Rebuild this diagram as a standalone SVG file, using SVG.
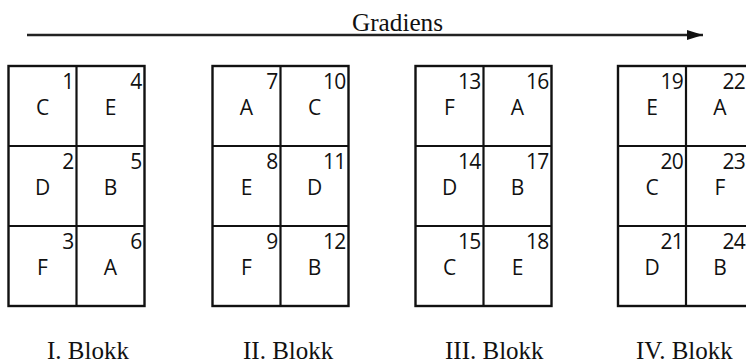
<svg xmlns="http://www.w3.org/2000/svg" width="746" height="363" viewBox="0 0 746 363">
  <style>
    .frame { fill: #fff; stroke: #111; stroke-width: 2.4; }
    .grid { stroke: #111; stroke-width: 2.2; fill: none; }
    .plot { font-family: "Open Sans", "Liberation Sans", sans-serif; font-size: 21px; fill: #111; }
    .num { text-anchor: end; letter-spacing: -0.8px; }
    .sp { text-anchor: middle; }
    .title { font-family: "Liberation Serif", "Times New Roman", serif; font-size: 25px; fill: #111; }
    .axis { stroke: #222; stroke-width: 2.4; fill: none; }
  </style>
  <defs>
    <marker id="head" markerUnits="userSpaceOnUse" markerWidth="16" markerHeight="10" refX="16" refY="5" orient="auto">
      <path d="M0,0 L16,5 L0,10 Z" fill="#111"/>
    </marker>
    <!-- a block: two columns x three rows of plots, 136 x 240 -->
    <g id="blockFrame">
      <rect class="frame" x="0" y="0" width="136" height="240"/>
      <path class="grid" d="M68,0 V240 M0,80 H136 M0,160 H136"/>
    </g>
  </defs>

  <!-- gradient axis -->
  <g id="connectors">
    <line class="axis" x1="27" y1="35" x2="703" y2="35" marker-end="url(#head)"/>
  </g>
  <text class="title" x="352" y="31" font-size="29" textLength="91" lengthAdjust="spacingAndGlyphs">Gradiens</text>

  <!-- Block I -->
  <g id="block1" transform="translate(8.5,66)">
    <use href="#blockFrame"/>
    <g class="plot">
      <text class="num" x="65" y="23">1</text><text class="sp" x="34" y="49">C</text>
      <text class="num" x="65" y="103">2</text><text class="sp" x="34" y="129">D</text>
      <text class="num" x="65" y="183">3</text><text class="sp" x="34" y="209">F</text>
      <text class="num" x="133" y="23">4</text><text class="sp" x="102" y="49">E</text>
      <text class="num" x="133" y="103">5</text><text class="sp" x="102" y="129">B</text>
      <text class="num" x="133" y="183">6</text><text class="sp" x="102" y="209">A</text>
    </g>
  </g>

  <!-- Block II -->
  <g id="block2" transform="translate(212.5,66)">
    <use href="#blockFrame"/>
    <g class="plot">
      <text class="num" x="65" y="23">7</text><text class="sp" x="34" y="49">A</text>
      <text class="num" x="65" y="103">8</text><text class="sp" x="34" y="129">E</text>
      <text class="num" x="65" y="183">9</text><text class="sp" x="34" y="209">F</text>
      <text class="num" x="133" y="23">10</text><text class="sp" x="102" y="49">C</text>
      <text class="num" x="133" y="103">11</text><text class="sp" x="102" y="129">D</text>
      <text class="num" x="133" y="183">12</text><text class="sp" x="102" y="209">B</text>
    </g>
  </g>

  <!-- Block III -->
  <g id="block3" transform="translate(415.5,66)">
    <use href="#blockFrame"/>
    <g class="plot">
      <text class="num" x="65" y="23">13</text><text class="sp" x="34" y="49">F</text>
      <text class="num" x="65" y="103">14</text><text class="sp" x="34" y="129">D</text>
      <text class="num" x="65" y="183">15</text><text class="sp" x="34" y="209">C</text>
      <text class="num" x="133" y="23">16</text><text class="sp" x="102" y="49">A</text>
      <text class="num" x="133" y="103">17</text><text class="sp" x="102" y="129">B</text>
      <text class="num" x="133" y="183">18</text><text class="sp" x="102" y="209">E</text>
    </g>
  </g>

  <!-- Block IV (runs past the right edge; its right-hand numbers are kept inside) -->
  <g id="block4" transform="translate(618,66)">
    <use href="#blockFrame"/>
    <g class="plot">
      <text class="num" x="65" y="23">19</text><text class="sp" x="34" y="49">E</text>
      <text class="num" x="65" y="103">20</text><text class="sp" x="34" y="129">C</text>
      <text class="num" x="65" y="183">21</text><text class="sp" x="34" y="209">D</text>
      <text class="num" x="127" y="23">22</text><text class="sp" x="102" y="49">A</text>
      <text class="num" x="127" y="103">23</text><text class="sp" x="102" y="129">F</text>
      <text class="num" x="127" y="183">24</text><text class="sp" x="102" y="209">B</text>
    </g>
  </g>

  <!-- block labels -->
  <g id="labels" class="title">
    <text x="47" y="359">I. Blokk</text>
    <text x="243" y="359">II. Blokk</text>
    <text x="445" y="359">III. Blokk</text>
    <text x="636" y="359">IV. Blokk</text>
  </g>
</svg>
